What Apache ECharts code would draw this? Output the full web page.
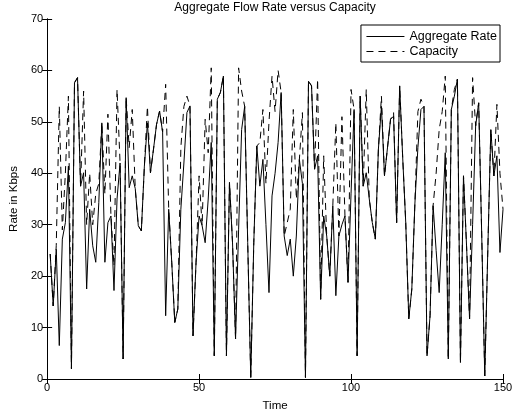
<!DOCTYPE html>
<html>
<head>
<meta charset="utf-8">
<script src="https://cdn.jsdelivr.net/npm/echarts@6/dist/echarts.min.js"></script>
<style>
  html, body { margin: 0; padding: 0; background: #fff; }
  #chart { width: 517px; height: 417px; }
</style>
</head>
<body>
<div id="chart"></div>
<script>
// values, time steps 1..150
var aggregateRate = [
  24.3, 14.2, 25.2, 6.5, 27.2, 30.4, 41.4, 2, 57.6, 58.6,
  37.5, 40.1, 17.5, 33, 25.9, 22.7, 34.3, 49.8, 22.7, 30.4,
  31.7, 17.2, 35, 42, 3.9, 54.7, 37.2, 39.5, 37, 29.8,
  28.8, 41.4, 49.8, 40.1, 44.7, 49.5, 52.1, 48, 12.3, 33,
  22.7, 11, 13.6, 33, 42, 51.8, 53.1, 8.4, 22.7, 31.7,
  29.8, 26.5, 35, 46, 4.5, 54.4, 55.7, 58.9, 4.5, 38.2,
  26.5, 7.8, 29, 48.5, 53, 26.5, 0.3, 26.5, 45.3, 37.5,
  42.7, 30, 16.8, 35.6, 40, 46, 55.7, 27.8, 24, 27.2,
  20, 27.8, 42.7, 38, 0.3, 57.9, 57, 40.8, 43.4, 15.5,
  31.7, 27.8, 20, 33.7, 16.2, 27.8, 30, 31.7, 18.8, 36,
  52.4, 4.5, 55, 37.5, 40.1, 35, 30.4, 27.2, 44.7, 53,
  39.5, 45, 50.5, 51.1, 30.4, 57, 43, 30.4, 11.7, 17.5,
  34, 45, 52.4, 53, 4.5, 12.3, 33.7, 25, 16.8, 30,
  44, 3.9, 52.4, 55, 58.3, 3.2, 39.5, 26, 11.7, 30,
  49.2, 53.7, 28, 0.6, 25, 48.5, 39.5, 43.4, 24.6, 33
];
var capacity = [
  24.3, 14.2, 26, 53, 29, 40, 55, 2, 57.6, 58.6,
  37.5, 56, 30, 40, 30, 36, 38, 49.8, 36, 51.5,
  31.7, 22, 56.3, 42, 3.9, 54.7, 45, 52.4, 37, 29.8,
  28.8, 41.4, 53, 40.1, 44.7, 49.5, 52.1, 48, 57.3, 33,
  22.7, 11, 13.6, 45, 53, 55, 53.1, 8.4, 22.7, 39.5,
  29.8, 50.5, 44, 60.5, 4.5, 54.4, 55.7, 58.9, 4.5, 38.2,
  26.5, 7.8, 60.5, 56, 53, 26.5, 0.3, 26.5, 45.3, 46,
  52.4, 38, 50, 58.9, 52, 60, 55.7, 27.8, 30.4, 33,
  52.4, 35, 42.7, 51.8, 0.3, 57.9, 57, 40.8, 58.3, 15.5,
  43.4, 27.8, 20, 33.7, 49.8, 27.8, 51, 31.7, 18.8, 56.3,
  52.4, 4.5, 55, 37.5, 56.3, 35, 30.4, 27.2, 44.7, 55,
  39.5, 45, 50.5, 51.8, 30.4, 57, 43, 30.4, 11.7, 17.5,
  34, 52, 54.4, 53, 4.5, 12.3, 33.7, 40, 48.5, 52,
  58.9, 3.9, 52.4, 56.3, 58.3, 3.2, 39.5, 26, 11.7, 58.6,
  49.2, 53.7, 28, 0.6, 25, 48.5, 39.5, 53.4, 40, 33
];
var xTicks = [0, 150, 50];   // min, max, step
var yTicks = [0, 70, 10];

var font = "Liberation Sans, Arial, sans-serif";
var chart = echarts.init(document.getElementById("chart"));

function pairs(arr) {
  return arr.map(function(v, i) { return [i + 1, v]; });
}

function ticks() {
  return { show: true, inside: true, length: 5, lineStyle: { color: "#000", width: 1 } };
}

chart.setOption({
  backgroundColor: "#FFFFFF",
  animation: false,
  title: {
    text: "Aggregate Flow Rate versus Capacity",
    left: 275,
    top: 2,
    padding: 0,
    textAlign: "center",
    textStyle: { fontFamily: font, fontSize: 12, fontWeight: "normal", color: "#000" }
  },
  legend: {
    orient: "vertical",
    right: 17,
    top: 25,
    padding: [5, 3, 4, 5],
    itemGap: 2,
    itemWidth: 38,
    itemHeight: 14,
    borderColor: "#000",
    borderWidth: 1,
    borderRadius: 0,
    itemStyle: { opacity: 0 },
    lineStyle: { width: 1 },
    textStyle: { fontFamily: font, fontSize: 12.5, color: "#000" },
    data: ["Aggregate Rate", "Capacity"]
  },
  grid: { left: 47, right: 14, top: 19, bottom: 30 },
  xAxis: [{
    type: "value",
    min: xTicks[0], max: xTicks[1], interval: xTicks[2],
    name: "Time",
    nameLocation: "middle",
    nameGap: 21,
    nameTextStyle: { fontFamily: font, fontSize: 11.5, color: "#000" },
    axisLine: { lineStyle: { color: "#000", width: 1 } },
    axisTick: ticks(),
    axisLabel: { fontFamily: font, fontSize: 11, color: "#000", margin: 3 },
    splitLine: { show: false }
  }, {
    type: "value",
    position: "top",
    min: xTicks[0], max: xTicks[1], interval: xTicks[2],
    axisLine: { show: true, lineStyle: { color: "#000", width: 1 } },
    axisTick: ticks(),
    axisLabel: { show: false },
    splitLine: { show: false }
  }],
  yAxis: [{
    type: "value",
    min: yTicks[0], max: yTicks[1], interval: yTicks[2],
    name: "Rate in Kbps",
    nameLocation: "middle",
    nameGap: 27,
    nameTextStyle: { fontFamily: font, fontSize: 11.5, color: "#000" },
    axisLine: { show: true, lineStyle: { color: "#000", width: 1 } },
    axisTick: ticks(),
    axisLabel: { fontFamily: font, fontSize: 11, color: "#000", margin: 4 },
    splitLine: { show: false }
  }, {
    type: "value",
    position: "right",
    min: yTicks[0], max: yTicks[1], interval: yTicks[2],
    axisLine: { show: true, lineStyle: { color: "#000", width: 1 } },
    axisTick: ticks(),
    axisLabel: { show: false },
    splitLine: { show: false }
  }],
  series: [{
    name: "Aggregate Rate",
    type: "line",
    symbol: "none",
    lineStyle: { color: "#000", width: 1 },
    itemStyle: { color: "#000" },
    data: pairs(aggregateRate),
    z: 3
  }, {
    name: "Capacity",
    type: "line",
    symbol: "none",
    lineStyle: { color: "#000", width: 1, type: [7, 5] },
    itemStyle: { color: "#000" },
    data: pairs(capacity),
    z: 2
  }]
});
</script>
</body>
</html>
